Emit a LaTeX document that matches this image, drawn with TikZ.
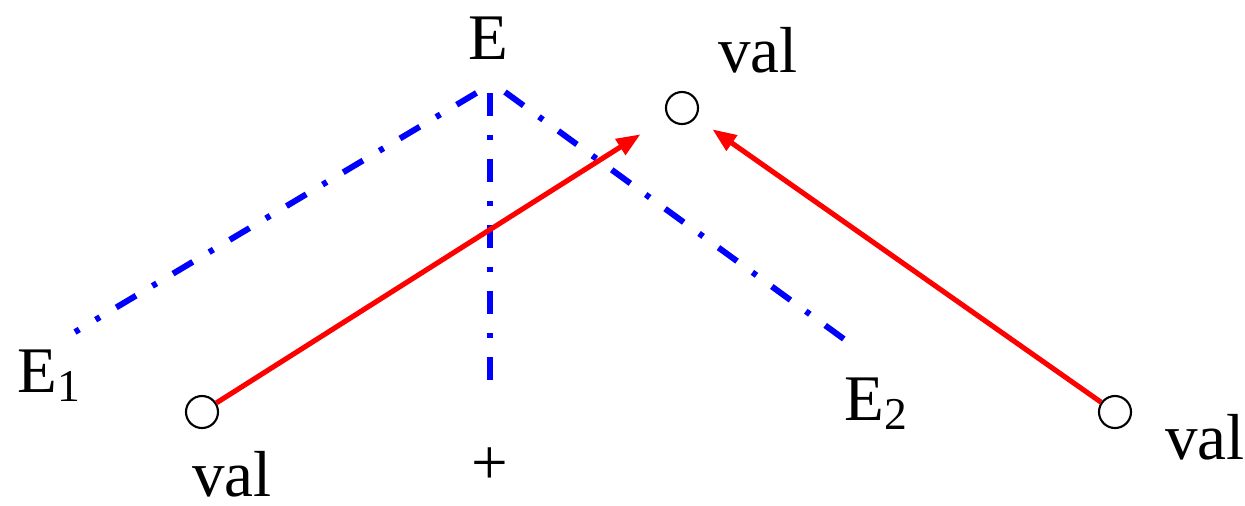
\documentclass[tikz,border=0pt]{standalone}
\usepackage{fontspec}
\setmainfont{Liberation Serif}
\usetikzlibrary{arrows.meta}

\begin{document}
\begin{tikzpicture}[x=0.01cm, y=-0.01cm, >={Triangle[length=0.24cm, width=0.18cm]}, font=\fontsize{18.5}{22}\selectfont]
  \tikzstyle{vertex}=[draw, circle, line width=0.6pt, minimum size=0.32cm, inner sep=0pt]
  \tikzstyle{edge}=[blue, line width=1.7pt, dash pattern=on 0.23cm off 0.19cm on 0.05cm off 0.19cm]
  \tikzstyle{link}=[red, line width=1.45pt, ->]
  \useasboundingbox (0,0) rectangle (1245,505);

  % ------- nodes -------
  \node[vertex] (vtop)   at (682,108)  {};
  \node[vertex] (vleft)  at (202,412)  {};
  \node[vertex] (vright) at (1115,412) {};

  \node (lE)  at (488,38)   {E};
  \node (lE1) at (50,376)   {E\textsubscript{1}};
  \node (lE2) at (877,404)  {E\textsubscript{2}};
  \node (lplus) at (490,466) {+};
  \node (ltop)   at (758,50)   {val};
  \node (lleft)  at (232,474)  {val};
  \node (lright) at (1205,437) {val};

  % ------- blue edges -------
  \coordinate (al) at (478,92);
  \coordinate (av) at (490,93);
  \coordinate (ar) at (505,92);
  \coordinate (e1) at (75,332);
  \coordinate (ev) at (490,380);
  \coordinate (e2) at (848,342);
  \draw[edge, dash phase=0.18cm] (e1) -- (al);
  \draw[edge] (av) -- (ev);
  \draw[edge] (ar) -- (e2);

  % ------- arrows -------
  \draw[link, shorten >=0.32cm] (vleft) -- (vtop);
  \draw[link, shorten >=0.2cm] (vright) -- (vtop);
\end{tikzpicture}
\end{document}
